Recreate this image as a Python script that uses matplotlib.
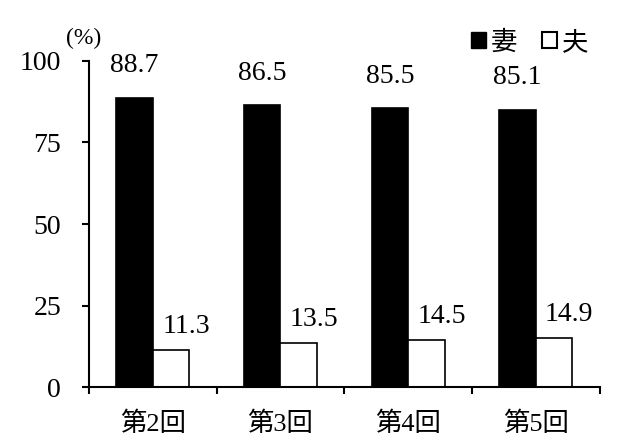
import matplotlib

matplotlib.use("Agg")
import matplotlib.pyplot as plt
import numpy as np
from matplotlib.patches import Patch

categories = ["第2回", "第3回", "第4回", "第5回"]
wife = [88.7, 86.5, 85.5, 85.1]
husband = [11.3, 13.5, 14.5, 14.9]
series_names = ["妻", "夫"]
y_ticks = [0, 25, 50, 75, 100]

FONTS = ["Liberation Serif", "Noto Sans CJK JP", "DejaVu Sans"]
plt.rcParams["font.family"] = FONTS

fig = plt.figure(figsize=(6.4, 4.48), dpi=100)
ax = fig.add_axes([0.139, 0.136, 0.798, 0.728])

x = np.arange(len(categories)) + 0.5
w = 0.285
ax.bar(x - w / 2, wife, w, color="black", edgecolor="black", linewidth=1.2)
ax.bar(x + w / 2, husband, w, color="white", edgecolor="black", linewidth=1.2)

for xi, v in zip(x - w / 2, wife):
    ax.annotate(f"{v:.1f}", (xi, v), xytext=(0, 14), textcoords="offset points",
                ha="center", va="bottom", fontsize=20)
for xi, v in zip(x + w / 2, husband):
    ax.annotate(f"{v:.1f}", (xi, v), xytext=(11, 8), textcoords="offset points",
                ha="center", va="bottom", fontsize=20)

ax.set_xlim(0, len(categories))
ax.set_ylim(0, 100)
ax.set_yticks(y_ticks)
ax.set_xticks(np.arange(len(categories) + 1))
ax.set_xticklabels([])
ax.set_xticks(x, minor=True)
ax.set_xticklabels(categories, minor=True, fontsize=19)
ax.tick_params(axis="x", which="minor", length=0, pad=18)
ax.tick_params(axis="x", which="major", length=5, width=1.5)
ax.tick_params(axis="y", length=5, width=1.5, labelsize=20, pad=15)

for side in ["top", "right"]:
    ax.spines[side].set_visible(False)
for side in ["left", "bottom"]:
    ax.spines[side].set_linewidth(1.5)

fig.text(0.131, 0.915, "(%)", ha="center", va="center", fontsize=17)

handles = [Patch(facecolor="black", edgecolor="black"),
           Patch(facecolor="white", edgecolor="black", linewidth=1.5)]
fig.legend(handles, series_names, loc="center right", bbox_to_anchor=(0.94, 0.905),
           ncol=2, frameon=False, fontsize=19, handlelength=0.55, handleheight=0.55,
           handletextpad=0.2, columnspacing=0.95, borderpad=0)

fig.savefig("out.png", dpi=100)
